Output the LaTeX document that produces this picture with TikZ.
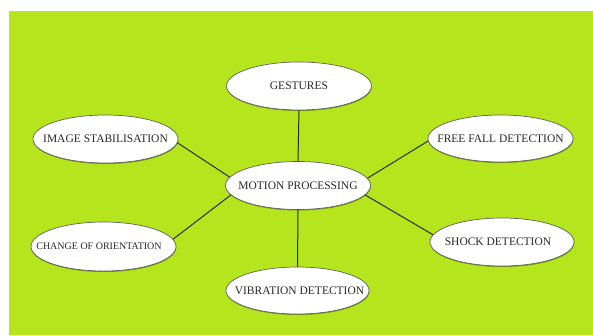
\documentclass[tikz,border=0pt]{standalone}
\usepackage{fontspec}
\setmainfont{Liberation Serif}
\usetikzlibrary{shapes.geometric,shadows}
\definecolor{lime}{RGB}{181,230,29}
\definecolor{txt}{RGB}{40,40,40}
\definecolor{edge}{RGB}{95,95,95}
\definecolor{link}{RGB}{35,45,20}
\newcommand{\tx}[2][0pt]{\makebox[0pt]{\hspace*{#1}#2}}
\tikzset{
  bubble/.style={ellipse, draw=edge, line width=0.7pt, fill=white,
    minimum width=145pt, minimum height=48pt, inner sep=0pt,
    text=txt, font=\fontsize{11.5}{12}\selectfont,
    drop shadow={shadow xshift=0.3pt, shadow yshift=-1pt, opacity=0.35, fill=black}},
  link/.style={draw=link, line width=1pt}
}
\begin{document}
\begin{tikzpicture}[x=1pt,y=-1pt]
\useasboundingbox (0,0) rectangle (593,335);
\fill[white] (0,0) rectangle (593,335);
\fill[lime] (9,11) rectangle (593,335);
\node[bubble] (ges) at (299,86) {\tx{GESTURES}};
\node[bubble] (mp) at (298,185.5) {\tx{MOTION PROCESSING}};
\node[bubble, minimum width=143pt, minimum height=47pt] (vib) at (297.5,290.5) {\tx[4pt]{VIBRATION DETECTION}};
\node[bubble] (img) at (105.5,139) {\tx{IMAGE STABILISATION}};
\node[bubble, font=\fontsize{10}{12}\selectfont, minimum height=49pt] (chg) at (103.5,246.5) {\tx[-9pt]{CHANGE OF ORIENTATION}};
\node[bubble, minimum height=47pt] (ff) at (500.5,138.5) {\tx{FREE FALL DETECTION}};
\node[bubble, minimum width=144pt] (sh) at (502,242) {\tx[-8pt]{SHOCK DETECTION}};
\draw[link] (ges.south) -- (mp.north);
\draw[link] (mp.south) -- (vib.north);
\draw[link] (img.-3) -- (mp.173.5);
\draw[link] (chg.6.7) -- (mp.-172.6);
\draw[link] (mp.6.6) -- (ff.182);
\draw[link] (mp.-8.2) -- (sh.174.2);
\end{tikzpicture}
\end{document}
